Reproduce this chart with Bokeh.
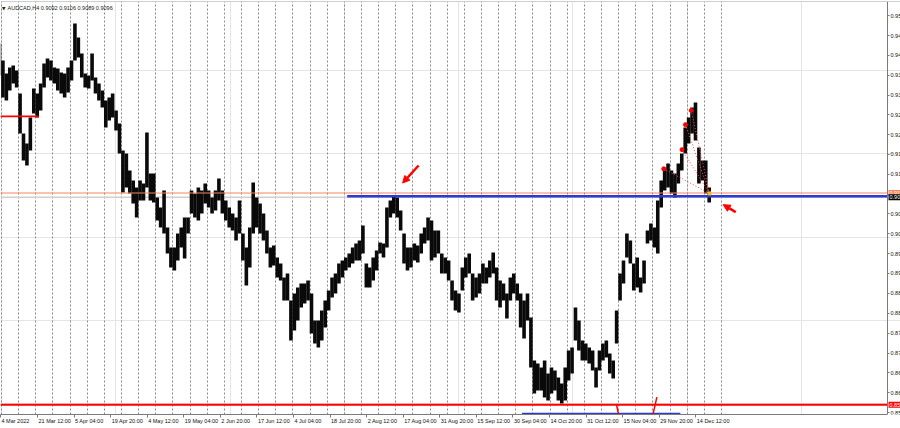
from bokeh.plotting import figure
from bokeh.models import (Range1d, LinearAxis, FixedTicker, Grid, Span, Label, Arrow,
                          NormalHead, ColumnDataSource)
from bokeh.embed import file_html
from bokeh.resources import INLINE

# ---------------- data ----------------
SYMBOL = "AUDCAD,H4"
LAST_BAR_OHLC = [0.9092, 0.9106, 0.9089, 0.9096]

# daily high / low of the H4 chart, trading day index 0 = Mon 7 Mar 2022
FIRST_DAY = -1
day_high = [
    0.9465, 0.9424, 0.9393, 0.9407, 0.9412, 0.9400, 0.9345, 0.9249, 0.9225, 0.9287,
    0.9357, 0.9345, 0.9369, 0.9417, 0.9429, 0.9424, 0.9407, 0.9405, 0.9395, 0.9393,
    0.9407, 0.9424, 0.9513, 0.9479, 0.9441, 0.9393, 0.9388, 0.9441, 0.9383, 0.9369,
    0.9352, 0.9328, 0.9335, 0.9345, 0.9304, 0.9273, 0.9208, 0.9201, 0.9160, 0.9136,
    0.9119, 0.9136, 0.9129, 0.9251, 0.9153, 0.9153, 0.9095, 0.9071, 0.9112, 0.9023,
    0.8975, 0.8975, 0.9009, 0.9023, 0.9047, 0.9047, 0.9112, 0.9105, 0.9119, 0.9112,
    0.9129, 0.9112, 0.9095, 0.9112, 0.9141, 0.9112, 0.9088, 0.9071, 0.9057, 0.9047,
    0.9088, 0.9009, 0.8975, 0.9023, 0.9131, 0.9095, 0.9081, 0.9057, 0.9016, 0.8975,
    0.8980, 0.8951, 0.8937, 0.8903, 0.8913, 0.8848, 0.8865, 0.8879, 0.8889, 0.8889,
    0.8896, 0.8865, 0.8800, 0.8800, 0.8824, 0.8848, 0.8872, 0.8903, 0.8913, 0.8937,
    0.8944, 0.8951, 0.8961, 0.8975, 0.8985, 0.8992, 0.9028, 0.8937, 0.8927, 0.8951,
    0.8968, 0.8987, 0.8985, 0.9071, 0.9088, 0.9100, 0.9095, 0.9064, 0.9009, 0.8975,
    0.8975, 0.8985, 0.8980, 0.9009, 0.9023, 0.9047, 0.9040, 0.9016, 0.9016, 0.8961,
    0.8951, 0.8944, 0.8896, 0.8872, 0.8865, 0.8927, 0.8951, 0.8961, 0.8913, 0.8903,
    0.8913, 0.8937, 0.8927, 0.8944, 0.8963, 0.8927, 0.8896, 0.8889, 0.8865, 0.8903,
    0.8913, 0.8889, 0.8865, 0.8848, 0.8865, 0.8807, 0.8704, 0.8697, 0.8687, 0.8704,
    0.8673, 0.8687, 0.8680, 0.8663, 0.8649, 0.8687, 0.8728, 0.8735, 0.8831, 0.8800,
    0.8752, 0.8745, 0.8735, 0.8728, 0.8687, 0.8728, 0.8745, 0.8752, 0.8721, 0.8704,
    0.8824, 0.8913, 0.8944, 0.9009, 0.8992, 0.8937, 0.8951, 0.8903, 0.8944, 0.9016,
    0.9033, 0.9023, 0.9088, 0.9136, 0.9167, 0.9177, 0.9160, 0.9153, 0.9177, 0.9201,
    0.9263, 0.9287, 0.9311, 0.9323, 0.9215, 0.9184, 0.9184, 0.9119,
]
day_low = [
    0.9388, 0.9335, 0.9328, 0.9352, 0.9369, 0.9359, 0.9249, 0.9184, 0.9172, 0.9208,
    0.9297, 0.9287, 0.9304, 0.9359, 0.9383, 0.9376, 0.9369, 0.9352, 0.9345, 0.9335,
    0.9347, 0.9376, 0.9424, 0.9431, 0.9383, 0.9359, 0.9357, 0.9376, 0.9345, 0.9328,
    0.9311, 0.9263, 0.9280, 0.9287, 0.9256, 0.9201, 0.9107, 0.9119, 0.9105, 0.9081,
    0.9047, 0.9088, 0.9088, 0.9119, 0.9088, 0.9083, 0.9040, 0.9023, 0.9009, 0.8961,
    0.8927, 0.8920, 0.8944, 0.8975, 0.8949, 0.9009, 0.9057, 0.9047, 0.9040, 0.9057,
    0.9081, 0.9071, 0.9057, 0.9064, 0.9088, 0.9057, 0.9040, 0.9023, 0.9016, 0.8992,
    0.9009, 0.8944, 0.8884, 0.8927, 0.9009, 0.9023, 0.9009, 0.8992, 0.8961, 0.8927,
    0.8932, 0.8903, 0.8896, 0.8848, 0.8848, 0.8752, 0.8776, 0.8800, 0.8831, 0.8841,
    0.8848, 0.8769, 0.8745, 0.8735, 0.8752, 0.8783, 0.8824, 0.8855, 0.8865, 0.8889,
    0.8903, 0.8920, 0.8927, 0.8937, 0.8944, 0.8944, 0.8961, 0.8879, 0.8879, 0.8896,
    0.8920, 0.8961, 0.8951, 0.8975, 0.9047, 0.9057, 0.9047, 0.9016, 0.8937, 0.8920,
    0.8927, 0.8944, 0.8939, 0.8961, 0.8985, 0.8992, 0.8944, 0.8951, 0.8961, 0.8913,
    0.8913, 0.8896, 0.8848, 0.8824, 0.8819, 0.8872, 0.8903, 0.8913, 0.8848, 0.8855,
    0.8865, 0.8889, 0.8889, 0.8903, 0.8913, 0.8848, 0.8831, 0.8848, 0.8805, 0.8848,
    0.8865, 0.8848, 0.8783, 0.8757, 0.8800, 0.8687, 0.8625, 0.8632, 0.8632, 0.8615,
    0.8608, 0.8625, 0.8632, 0.8608, 0.8601, 0.8608, 0.8656, 0.8673, 0.8752, 0.8728,
    0.8704, 0.8704, 0.8697, 0.8680, 0.8639, 0.8680, 0.8704, 0.8711, 0.8673, 0.8661,
    0.8745, 0.8848, 0.8889, 0.8951, 0.8937, 0.8872, 0.8879, 0.8867, 0.8889, 0.8985,
    0.8992, 0.8975, 0.8961, 0.9071, 0.9112, 0.9119, 0.9105, 0.9095, 0.9129, 0.9160,
    0.9201, 0.9225, 0.9249, 0.9232, 0.9129, 0.9136, 0.9105, 0.9083,
]
BARS_PER_DAY = 6

# time axis labels (position in H4 bars since Mon 7 Mar 2022 00:00)
time_labels = ["4 Mar 2022", "21 Mar 12:00", "5 Apr 04:00", "19 Apr 20:00", "4 May 12:00",
               "19 May 04:00", "2 Jun 20:00", "17 Jun 12:00", "4 Jul 04:00", "18 Jul 20:00",
               "2 Aug 12:00", "17 Aug 04:00", "31 Aug 20:00", "15 Sep 12:00", "30 Sep 04:00",
               "14 Oct 20:00", "31 Oct 12:00", "15 Nov 04:00", "29 Nov 20:00", "14 Dec 12:00"]
time_label_bars = [-1.7, 63, 127, 191, 255, 319, 383, 447, 511, 575, 639, 703, 767, 831,
                   895, 959, 1023, 1087, 1151, 1215]
week_start_bars = list(range(0, 1261, 30))   # Monday 00:00 of each week

# price scale ticks; only the first four characters fit before the window edge
price_ticks = [0.8579, 0.8627, 0.8675, 0.8722, 0.8770, 0.8817, 0.8865, 0.8913, 0.8960,
               0.9008, 0.9056, 0.9103, 0.9151, 0.9199, 0.9246, 0.9294, 0.9341, 0.9389,
               0.9437, 0.9484, 0.9532]

# drawn objects
level_orange = 0.9106
level_bid = 0.9096
level_red = 0.8598
level_blue, level_blue_from = 0.9098, 605
short_red_level, short_red_bars = 0.9290, [-1.7, 65]
bottom_blue_level, bottom_blue_bars = 0.8576, [911, 1188]
red_diag_a = ([1076, 1080], [0.8600, 0.8574])
red_diag_b = ([1140, 1147], [0.8574, 0.8616])
pattern_bars = [1159, 1191, 1197, 1207]
pattern_prices = [0.9164, 0.9210, 0.9270, 0.9304]
pattern_end_bar, pattern_end_price = 1239, 0.9105
arrow_a = (730, 0.9172, 702, 0.9130)
arrow_b = (1285, 0.9060, 1263, 0.9078)

# ---------------- layout ----------------
W, H = 900, 428
BOTTOM, TOP = 14, 1
X_START, X_END = -1.75, 1573.3       # whole window width
X_SCALE = 1550.6                     # where the price scale sits (chart shift area ends)
Y_START, Y_END = 0.85744, 0.95656
FONT = "Liberation Sans"
FS = 5.5

p = figure(width=W, height=H, output_backend="svg", toolbar_location=None,
           x_range=Range1d(X_START, X_END), y_range=Range1d(Y_START, Y_END),
           x_axis_location=None, y_axis_location=None,
           min_border_left=0, min_border_right=0, min_border_top=TOP,
           min_border_bottom=BOTTOM, outline_line_color=None,
           background_fill_color="white", border_fill_color="white")

p.add_layout(Grid(dimension=0, ticker=FixedTicker(ticks=week_start_bars),
                  grid_line_color="#8a8a8a", grid_line_dash="2 2", grid_line_width=1))

# bid line (under price)
p.segment(x0=[X_START], y0=[level_bid], x1=[X_SCALE], y1=[level_bid],
          line_color="#cfcfcf", line_width=1.5)

# price trace: one contiguous column per trading day
day_x = [BARS_PER_DAY * (FIRST_DAY + i) + 2.5 for i in range(len(day_high))]
src = ColumnDataSource(dict(x=day_x, top=day_high, bottom=day_low))
p.vbar(x="x", width=6.3, top="top", bottom="bottom", source=src,
       fill_color="#0a0a0a", line_color=None)

# horizontal levels (they stop at the price scale)
p.segment(x0=[level_blue_from], y0=[level_blue], x1=[X_SCALE], y1=[level_blue],
          line_color="#2b3bd6", line_width=2.5)
p.segment(x0=[X_START], y0=[level_orange], x1=[X_SCALE], y1=[level_orange],
          line_color="#f4845f", line_width=1)
p.segment(x0=[X_START], y0=[level_red], x1=[X_SCALE], y1=[level_red],
          line_color="#ff0000", line_width=2)
p.segment(x0=[short_red_bars[0]], y0=[short_red_level], x1=[short_red_bars[1]],
          y1=[short_red_level], line_color="#ff0000", line_width=1.6)
p.segment(x0=[bottom_blue_bars[0]], y0=[bottom_blue_level], x1=[bottom_blue_bars[1]],
          y1=[bottom_blue_level], line_color="#2b3bd6", line_width=2)
for xs, ys in (red_diag_a, red_diag_b):
    p.line(xs, ys, line_color="#ff0000", line_width=1.5)

# pattern
p.segment(x0=pattern_bars, y0=pattern_prices, x1=[pattern_end_bar] * len(pattern_bars),
          y1=[pattern_end_price] * len(pattern_bars), line_color="#ff4a4a",
          line_dash="1 2", line_width=1)
p.scatter(pattern_bars, pattern_prices, size=4, color="#ff0000")
p.scatter([pattern_end_bar], [pattern_end_price], marker="square", size=3, color="#f0c020")

# arrows
for xs, ys, xe, ye in (arrow_a, arrow_b):
    p.add_layout(Arrow(end=NormalHead(size=7, fill_color="#ff0000", line_color="#ff0000"),
                       x_start=xs, y_start=ys, x_end=xe, y_end=ye,
                       line_color="#ff0000", line_width=2.5))

# ---------------- axes ----------------
CHAR_EM = {' ': .278, ':': .278, '.': .278, 'M': .833, 'a': .556, 'r': .333, 'A': .667,
           'p': .556, 'y': .5, 'J': .5, 'u': .556, 'n': .556, 'l': .222, 'g': .556,
           'S': .667, 'e': .556, 'O': .778, 'c': .5, 't': .278, 'N': .722, 'o': .556,
           'v': .5, 'D': .722}


def text_px(s):
    return sum(CHAR_EM.get(c, .556) for c in s) * FS


px_per_bar = W / (X_END - X_START)

# labels sit to the right of their tick marks (ticks drawn as minor ticks)
centers = [round(b + (text_px(t) / 2 + 1.0) / px_per_bar, 3)
           for b, t in zip(time_label_bars, time_labels)]
time_axis = LinearAxis(ticker=FixedTicker(ticks=centers, minor_ticks=time_label_bars),
                       major_label_overrides={c: t for c, t in zip(centers, time_labels)},
                       bounds=(X_START, X_SCALE),
                       axis_line_color="#7a7a7a", major_tick_line_color=None,
                       major_tick_out=0, major_tick_in=0,
                       minor_tick_line_color="#7a7a7a", minor_tick_out=3, minor_tick_in=0,
                       major_label_standoff=0, major_label_text_font=FONT,
                       major_label_text_font_size=f"{FS}px", major_label_text_color="#111111")
p.add_layout(time_axis, "below")

price_axis = LinearAxis(ticker=FixedTicker(ticks=price_ticks), fixed_location=X_SCALE,
                        major_label_overrides={v: f"{v:.4f}"[:4] for v in price_ticks},
                        axis_line_color="#7a7a7a", major_tick_line_color="#7a7a7a",
                        major_tick_out=2, major_tick_in=0, minor_tick_line_color=None,
                        major_label_standoff=1, major_label_text_font=FONT,
                        major_label_text_font_size=f"{FS}px", major_label_text_color="#111111")
p.add_layout(price_axis, "right")

# top border
p.add_layout(Span(location=Y_END, dimension="width", line_color="#a0a0a0", line_width=1))

# price tags on the scale (visible part only)
for lvl, bg in ((level_orange, "#f4845f"), (level_bid, "#000000"), (level_red, "#ff0000")):
    p.add_layout(Label(x=X_SCALE, y=lvl, x_offset=1, text=f"{lvl:.4f}"[:4], text_font=FONT,
                       text_font_size=f"{FS}px", text_color="white", text_baseline="middle",
                       text_align="left", background_fill_color=bg, padding=1))

# title
p.add_layout(Label(x=X_START, y=Y_END, x_offset=1.5, y_offset=-4, text="\u25bc",
                   text_font="DejaVu Sans", text_font_size="4.5px", text_color="#222222",
                   text_baseline="top"))
title = SYMBOL + "  " + " ".join(f"{v:.4f}" for v in LAST_BAR_OHLC)
p.add_layout(Label(x=X_START, y=Y_END, x_offset=7, y_offset=-3.5, text=title,
                   text_font=FONT, text_font_size=f"{FS}px", text_color="#222222",
                   text_baseline="top"))

open("out.html", "w").write(file_html(p, INLINE))
